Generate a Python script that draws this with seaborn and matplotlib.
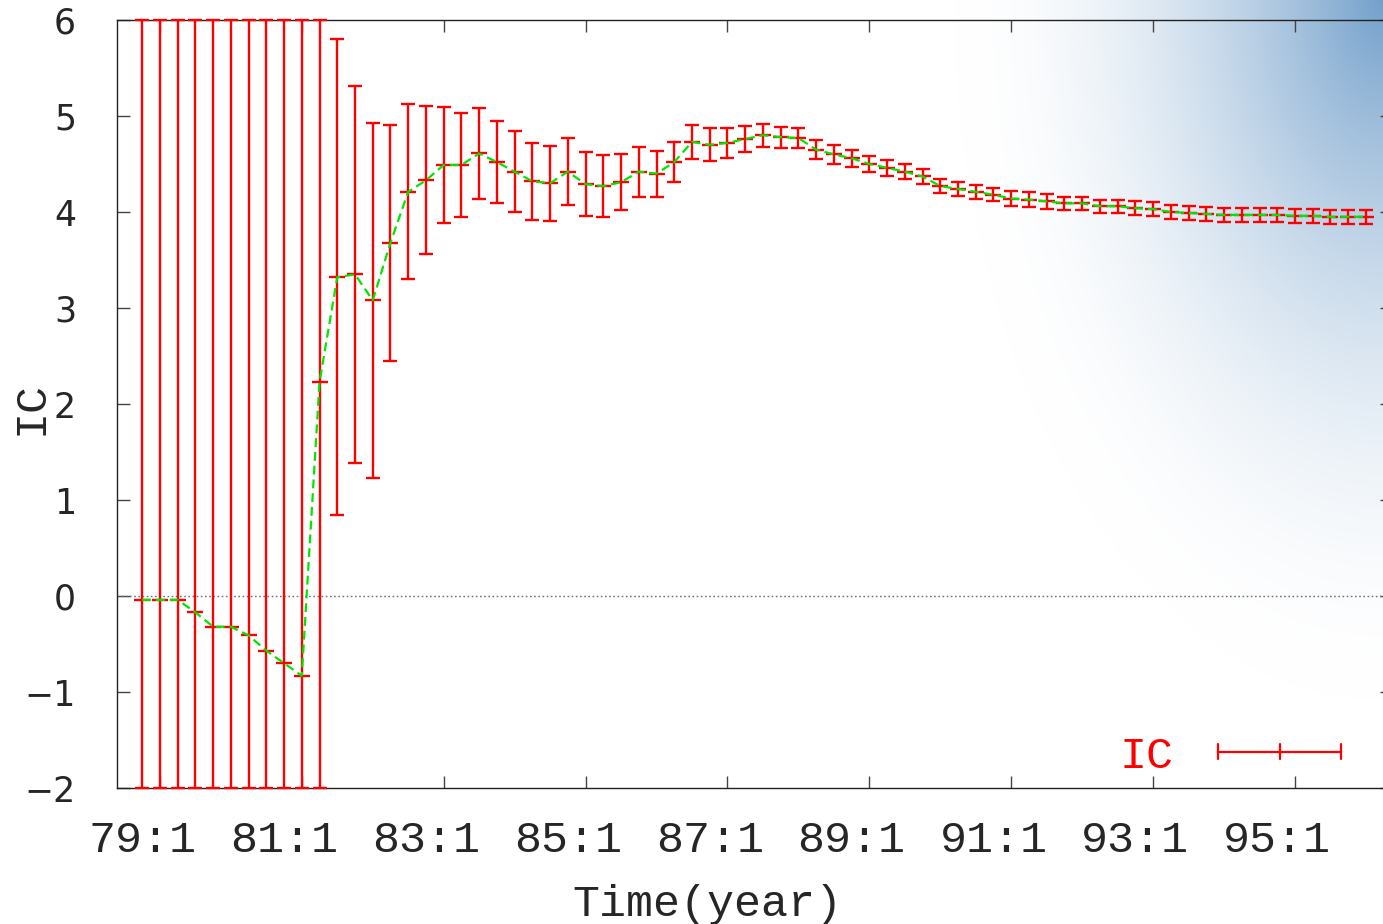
import numpy as np
import pandas as pd
import matplotlib
matplotlib.use("Agg")
import matplotlib.pyplot as plt
import seaborn as sns
from matplotlib.legend_handler import HandlerBase
from matplotlib.lines import Line2D
from matplotlib.font_manager import FontProperties

# ---------------- data ----------------
quarter_index = list(range(70))          # 79:1 ... 96:2, one point per quarter
ic_values = [
    -0.04, -0.04, -0.04, -0.17, -0.32, -0.32, -0.41, -0.57, -0.70, -0.83,
    2.23, 3.32, 3.35, 3.08, 3.68, 4.21, 4.33, 4.49, 4.49, 4.61,
    4.52, 4.42, 4.32, 4.30, 4.42, 4.29, 4.27, 4.31, 4.42, 4.40,
    4.52, 4.73, 4.70, 4.72, 4.76, 4.80, 4.78, 4.77, 4.65, 4.60,
    4.56, 4.50, 4.46, 4.42, 4.37, 4.27, 4.24, 4.21, 4.18, 4.14,
    4.13, 4.11, 4.09, 4.09, 4.06, 4.06, 4.04, 4.03, 4.00, 3.99,
    3.98, 3.97, 3.97, 3.97, 3.97, 3.96, 3.96, 3.95, 3.95, 3.95,
]
ic_errors = [
    8.0, 8.0, 8.0, 8.0, 8.0, 8.0, 8.0, 8.0, 8.0, 8.0,
    8.0, 2.48, 1.96, 1.85, 1.23, 0.91, 0.77, 0.60, 0.54, 0.47,
    0.43, 0.42, 0.40, 0.39, 0.35, 0.33, 0.32, 0.29, 0.26, 0.24,
    0.21, 0.18, 0.17, 0.16, 0.14, 0.12, 0.11, 0.10, 0.10, 0.095,
    0.09, 0.085, 0.085, 0.08, 0.075, 0.075, 0.07, 0.07, 0.07, 0.075,
    0.075, 0.075, 0.07, 0.07, 0.07, 0.07, 0.07, 0.075, 0.075, 0.07,
    0.07, 0.07, 0.07, 0.07, 0.07, 0.075, 0.07, 0.07, 0.07, 0.07,
]
x_tick_labels = ["79:1", "81:1", "83:1", "85:1", "87:1", "89:1", "91:1", "93:1", "95:1"]
y_ticks = [-2, -1, 0, 1, 2, 3, 4, 5, 6]

# ---------------- style ----------------
sns.set_style("ticks")
plt.rcParams["font.family"] = ["Liberation Mono", "DejaVu Sans"]
MONO = 32.4

W, H = 1383, 924
fig = plt.figure(figsize=(W / 100, H / 100), dpi=100)
fig.patch.set_facecolor("white")

# background bluish glow in the top-right corner (decoration of the reference image)
bg = fig.add_axes([0, 0, 1, 1], zorder=-5)
yy, xx = np.mgrid[0:H, 0:W]
r = np.sqrt(((W - xx) / 430.0) ** 2 + (yy / 700.0) ** 2)
t = np.clip(1 - r, 0, 1) ** 1.9
blue = np.array([115, 160, 203]) / 255.0
img = 1 - t[..., None] * (1 - blue)
bg.imshow(img, aspect="auto", extent=[0, 1, 0, 1], origin="upper")
bg.axis("off")

# main axes (right spine just past the canvas edge, as in the reference)
left_px, right_px, top_px, bot_px = 117, 1392, 20, 788
ax = fig.add_axes([left_px / W, (H - bot_px) / H, (right_px - left_px) / W, (bot_px - top_px) / H])
ax.set_facecolor("none")

df = pd.DataFrame({"quarter": quarter_index, "IC": ic_values, "err": ic_errors})
ymin, ymax = -2, 6
lower = np.maximum(df["IC"] - df["err"], ymin)
upper = np.minimum(df["IC"] + df["err"], ymax)

ax.axhline(0, color="#707070", lw=1.0, ls=(0, (1.2, 1.8)), zorder=1)

ax.errorbar(df["quarter"], df["IC"], yerr=[df["IC"] - lower, upper - df["IC"]],
            fmt="_", color="red", ecolor="red", elinewidth=1.7, capsize=4.8,
            capthick=1.7, ms=11, mew=1.7, clip_on=False, zorder=3)
sns.lineplot(data=df, x="quarter", y="IC", ax=ax, color="#00e600", lw=1.6,
             linestyle=(0, (4, 2.2)), zorder=4, legend=False)

ax.set_xlim(-1.42, 70.47)
ax.set_ylim(ymin, ymax)

# x ticks: tick marks one quarter after the labelled quarter (gnuplot look)
label_pos = [(int(s.split(":")[0]) - 79) * 4 + int(s.split(":")[1]) - 1 for s in x_tick_labels]
ax.set_xticks([p + 1 for p in label_pos])
ax.set_xticklabels([])
ax.set_xticks(label_pos, labels=x_tick_labels, minor=True)
ax.tick_params(axis="x", which="major", direction="in", length=8.6, width=1.0,
               color="#444444", top=True, bottom=True, labelbottom=False)
ax.tick_params(axis="x", which="minor", length=0, labelsize=MONO, pad=23)

ax.set_yticks(y_ticks)
ax.tick_params(axis="y", which="major", direction="in", length=9, width=1.0,
               color="#444444", left=True, right=True, labelsize=25, pad=29.5)
for lab in ax.get_yticklabels():
    lab.set_family("DejaVu Sans")
ax.tick_params(axis="y", which="minor", length=0)

for sp in ax.spines.values():
    sp.set_color("#222222")
    sp.set_linewidth(1.0)

ax.set_xlabel("Time(year)", fontsize=MONO)
ax.set_ylabel("IC", fontsize=MONO)
ax.xaxis.set_label_coords((707 - left_px) / (right_px - left_px), (bot_px - 884) / (bot_px - top_px))
ax.yaxis.set_label_coords((52 - left_px) / (right_px - left_px), (bot_px - 408) / (bot_px - top_px))


# legend: gnuplot style error-bar key sample
class GnuErrHandler(HandlerBase):
    def create_artists(self, legend, orig_handle, xdescent, ydescent, width, height,
                       fontsize, trans):
        y = height / 2 - ydescent
        x0, x1 = -xdescent, width - xdescent
        xm = (x0 + x1) / 2
        h = 5.4
        arts = [Line2D([x0, x1], [y, y], color="red", lw=1.6, transform=trans)]
        for xc in (x0, xm, x1):
            arts.append(Line2D([xc, xc], [y - h, y + h], color="red", lw=1.6, transform=trans))
        return arts


key = Line2D([], [], color="red")
ax.legend(handles=[key], labels=["IC"], handler_map={key: GnuErrHandler()},
          loc="center right",
          bbox_to_anchor=((1341 - left_px) / (right_px - left_px), (bot_px - 756) / (bot_px - top_px)),
          bbox_transform=ax.transAxes, frameon=False, markerfirst=False,
          handlelength=2.73, handletextpad=1.0, borderpad=0, borderaxespad=0,
          prop=FontProperties(family="Liberation Mono", size=MONO), labelcolor="red")

fig.savefig("out.png", dpi=100)
